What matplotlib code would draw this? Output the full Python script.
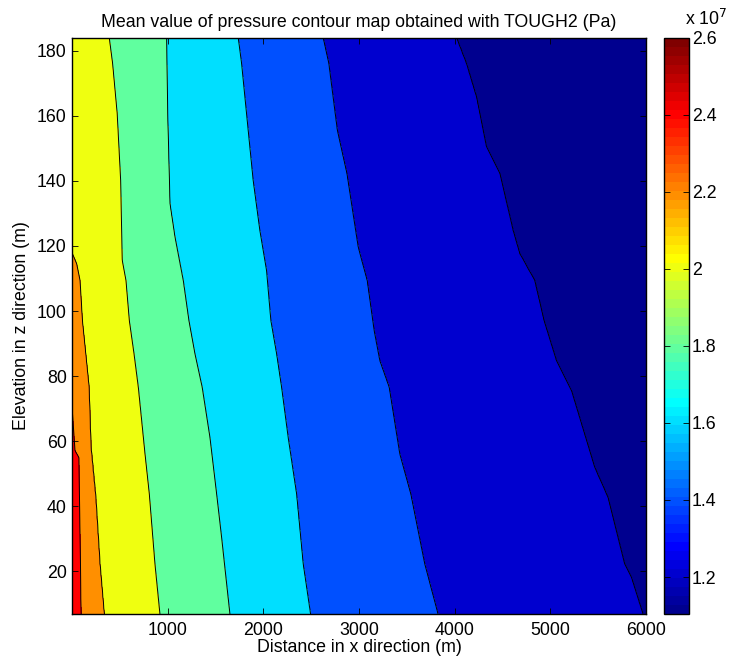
import numpy as np
import matplotlib
matplotlib.use("Agg")
import matplotlib.pyplot as plt
from matplotlib.colors import ListedColormap, Normalize
from matplotlib.cm import ScalarMappable

plt.rcParams['font.family'] = ['Liberation Sans', 'DejaVu Sans']

# ---- data: x positions (m) of each contour level at given elevations (m)
lvl24_z = [6.9, 55.0, 57.1, 69.5]
lvl24_x = [92, 71, 29, 0]
lvl22_z = [6.9, 22.3, 42.8, 58.2, 76.6, 86.9, 97.1, 109.4, 114.6, 117.8]
lvl22_x = [335, 290, 246, 196, 176, 141, 106, 82, 47, 0]
lvl20_z = [6.9, 22.3, 43.8, 56.1, 76.6, 86.9, 97.1, 109.4, 115.6, 140.2, 160.7, 176.1, 184]
lvl20_x = [917, 865, 806, 761, 691, 646, 597, 562, 523, 507, 471, 423, 388]
lvl18_z = [6.9, 30.5, 43.8, 61.2, 76.6, 86.9, 97.1, 109.4, 122.8, 133, 160.7, 184]
lvl18_x = [1649, 1562, 1510, 1440, 1359, 1283, 1220, 1161, 1074, 1022, 998, 987]
lvl16_z = [6.9, 22.3, 43.8, 61.2, 76.6, 86.9, 97.1, 112.5, 124.8, 140.2, 155.6, 176.1, 184]
lvl16_x = [2492, 2415, 2346, 2258, 2189, 2137, 2077, 2032, 1962, 1892, 1840, 1771, 1736]
lvl14_z = [6.9, 22.3, 43.8, 56.1, 76.6, 84.8, 94, 109.4, 119.7, 142.3, 155.6, 176.1, 184]
lvl14_x = [3825, 3686, 3540, 3425, 3314, 3216, 3157, 3084, 2990, 2872, 2772, 2683, 2624]
lvl12_z = [6.9, 18.2, 22.3, 42.8, 52, 75.6, 84.8, 97.1, 109.4, 117.7, 124.8, 142.3, 150.5, 165.8, 176.1, 184]
lvl12_x = [5968, 5847, 5776, 5602, 5463, 5220, 5063, 4933, 4836, 4679, 4610, 4471, 4331, 4227, 4122, 4018]

level_values = [1.2e7, 1.4e7, 1.6e7, 1.8e7, 2.0e7, 2.2e7, 2.4e7]
level_lines = [(lvl12_z, lvl12_x), (lvl14_z, lvl14_x), (lvl16_z, lvl16_x), (lvl18_z, lvl18_x),
               (lvl20_z, lvl20_x), (lvl22_z, lvl22_x), (lvl24_z, lvl24_x)]

# pressure at the left (x=0) and right (x=6000) edges
left_z = [6.9, 55.0, 69.5, 117.8, 184]
left_p = [2.58e7, 2.45e7, 2.4e7, 2.2e7, 2.1e7]
right_z = [6.9, 184]
right_p = [1.199e7, 1.104e7]

cmin, cmax = 1.104e7, 2.6e7
cbar_ticks = [1.2e7, 1.4e7, 1.6e7, 1.8e7, 2.0e7, 2.2e7, 2.4e7, 2.6e7]
cbar_labels = ['1.2', '1.4', '1.6', '1.8', '2', '2.2', '2.4', '2.6']
x_ticks = [1000, 2000, 3000, 4000, 5000, 6000]
y_ticks = [20, 40, 60, 80, 100, 120, 140, 160, 180]

# ---- build the field from the contour crossings
X = np.linspace(0, 6000, 601)
Z = np.linspace(6.9, 184, 300)
P = np.zeros((Z.size, X.size))
for i, z in enumerate(Z):
    xs = [0.0]
    ps = [np.interp(z, left_z, left_p)]
    crossings = []
    for val, (zz, xx) in zip(level_values, level_lines):
        xc = np.interp(z, zz, xx, left=np.nan, right=np.nan)
        if np.isfinite(xc) and 0 < xc < 6000:
            crossings.append((xc, val))
    crossings.sort()
    for xc, val in crossings:
        xs.append(xc)
        ps.append(val)
    xs.append(6000.0)
    ps.append(np.interp(z, right_z, right_p))
    P[i] = np.interp(X, xs, ps)

# ---- MATLAB jet(64)
def matlab_jet(m=64):
    n = int(np.ceil(m / 4))
    u = np.concatenate([np.arange(1, n + 1) / n, np.ones(n - 1), np.arange(n, 0, -1) / n])
    g = int(np.ceil(n / 2)) - (1 if m % 4 == 1 else 0) + np.arange(1, len(u) + 1)
    r = g + n
    b = g - n
    J = np.zeros((m, 3))
    for col, idx in ((0, r), (1, g), (2, b)):
        mask = (idx >= 1) & (idx <= m)
        J[idx[mask] - 1, col] = u[mask]
    return J

jet = matlab_jet(64)
cmap = ListedColormap(jet)

def matlab_color(v):
    k = int(np.floor((v - cmin) / (cmax - cmin) * 64))
    k = min(max(k, 0), 63)
    return jet[k]

fill_levels = [1.09e7] + level_values + [2.61e7]
band_lows = [cmin] + level_values
band_colors = [matlab_color(v) for v in band_lows]

FS = 12.8
fig = plt.figure(figsize=(7.3, 6.6), dpi=100)
ax = fig.add_axes([72.2 / 730, 1 - 614 / 660, (646 - 72.2) / 730, (614 - 37.7) / 660])
ax.contourf(X, Z, P, levels=fill_levels, colors=band_colors)
ax.contour(X, Z, P, levels=level_values, colors='black', linewidths=0.7)

ax.set_xlim(0, 6000)
ax.set_ylim(6.9, 184)
ax.set_xticks(x_ticks)
ax.set_yticks(y_ticks)
ax.tick_params(direction='in', top=True, right=True, labelsize=FS, length=4, width=0.6)
ax.tick_params(axis='x', pad=6)
ax.tick_params(axis='y', pad=4)
for s in ax.spines.values():
    s.set_linewidth(1.0)
ax.set_title('Mean value of pressure contour map obtained with TOUGH2 (Pa)', fontsize=FS, pad=8)
ax.set_xlabel('Distance in x direction (m)', fontsize=FS, labelpad=0)
ax.set_ylabel('Elevation in z direction (m)', fontsize=FS, labelpad=5)

# colorbar
cax = fig.add_axes([664 / 730, 1 - 614 / 660, 25 / 730, (614 - 37.7) / 660])
sm = ScalarMappable(norm=Normalize(cmin, cmax), cmap=cmap)
cb = fig.colorbar(sm, cax=cax)
cb.outline.set_linewidth(1.0)
cb.set_ticks(cbar_ticks)
cb.set_ticklabels(cbar_labels)
cax.tick_params(direction='in', left=True, right=True, labelsize=FS, length=4, width=0.6, pad=2)
fig.text(685 / 730, 1 - 25 / 660, r'x 10$^{7}$', fontsize=FS, ha='left', va='baseline')

fig.savefig('out.png', dpi=100)
